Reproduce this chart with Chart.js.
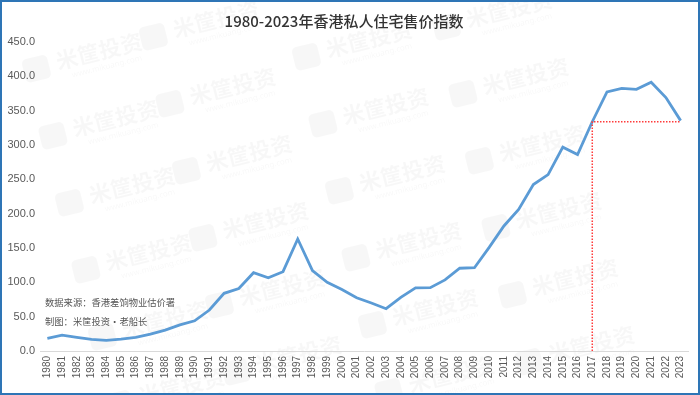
<!DOCTYPE html>
<html>
<head>
<meta charset="utf-8">
<script src="https://cdn.jsdelivr.net/npm/chart.js@4"></script>
<style>
  html, body { margin: 0; padding: 0; background: #fff; }
  #wrap { width: 700px; height: 395px; position: relative; }
</style>
</head>
<body>
<div id="wrap"><canvas id="c" width="700" height="395"></canvas></div>
<script>
// 年份
const years = ['1980','1981','1982','1983','1984','1985','1986','1987','1988','1989',
  '1990','1991','1992','1993','1994','1995','1996','1997','1998','1999',
  '2000','2001','2002','2003','2004','2005','2006','2007','2008','2009',
  '2010','2011','2012','2013','2014','2015','2016','2017','2018','2019',
  '2020','2021','2022','2023'];

// 私人住宅售价指数 (1999=100)
const priceIndex = [18.4, 23.0, 20.0, 17.0, 15.5, 17.4, 20.0, 24.7, 30.5, 38.0,
  44.0, 59.7, 84.0, 91.0, 114.0, 106.5, 115.5, 163.1, 117.0, 100.0,
  89.6, 77.6, 69.9, 61.6, 78.0, 92.0, 92.2, 103.5, 120.5, 121.3,
  150.9, 182.1, 206.2, 242.4, 256.9, 296.8, 286.1, 333.9, 377.3, 382.5,
  381.0, 391.4, 369.0, 335.5];

const yTicks = [0, 50, 100, 150, 200, 250, 300, 350, 400, 450];
const refYear = '2017';
const notes = ['数据来源：香港差饷物业估价署', '制图：米筐投资·老船长'];

// 水印位置 (文字中心)
const wmSpots = [];
[[100,55],[217,23],[370,43],[510,13]].forEach(function(b) {
  for (let k = 0; k < 6; k++) wmSpots.push([b[0] + k * 16.5, b[1] + k * 67]);
});

const decor = {
  id: 'decor',
  beforeDraw(chart) {
    const ctx = chart.ctx;
    ctx.save();
    ctx.fillStyle = '#fff';
    ctx.fillRect(0, 0, chart.width, chart.height);
    // watermark
    wmSpots.forEach(function(p) {
      ctx.save();
      ctx.translate(p[0], p[1]);
      ctx.rotate(-14 * Math.PI / 180);
      ctx.fillStyle = 'rgba(0,0,0,0.03)';
      ctx.beginPath();
      ctx.roundRect(-78, -14, 26, 24, 5);
      ctx.fill();
      ctx.font = 'bold 22px "Noto Sans CJK SC"';
      ctx.textAlign = 'center';
      ctx.textBaseline = 'middle';
      ctx.fillText('米筐投资', 0, -4);
      ctx.font = '8px "Noto Sans"';
      ctx.fillText('www.mikuang.com', 4, 13);
      ctx.restore();
    });
    ctx.restore();
  },
  afterDatasetsDraw(chart) {
    const ctx = chart.ctx;
    const x = chart.scales.x, y = chart.scales.y;
    const i = years.indexOf(refYear);
    const px = x.getPixelForValue(i);
    const py = y.getPixelForValue(priceIndex[i]);
    const pEnd = x.getPixelForValue(years.length - 1);
    ctx.save();
    ctx.strokeStyle = '#ff3b3b';
    ctx.lineWidth = 1.5;
    ctx.setLineDash([1.5, 1.5]);
    ctx.beginPath();
    ctx.moveTo(px, y.getPixelForValue(0));
    ctx.lineTo(px, py);
    ctx.lineTo(pEnd, py);
    ctx.stroke();
    ctx.restore();
  },
  afterDraw(chart) {
    const ctx = chart.ctx;
    ctx.save();
    ctx.fillStyle = '#555';
    ctx.font = '9.3px "Noto Sans CJK SC"';
    ctx.textBaseline = 'middle';
    ctx.fillText(notes[0], 45, 302);
    ctx.fillText(notes[1], 45, 321);
    ctx.strokeStyle = '#2e75b6';
    ctx.lineWidth = 2;
    ctx.strokeRect(1, 1, chart.width - 2, chart.height - 2);
    ctx.restore();
  }
};

new Chart(document.getElementById('c'), {
  type: 'line',
  data: {
    labels: years,
    datasets: [{
      label: '香港私人住宅售价指数',
      data: priceIndex,
      borderColor: '#5b9bd5',
      borderWidth: 2.8,
      pointRadius: 0,
      tension: 0,
      fill: false
    }]
  },
  options: {
    responsive: false,
    animation: false,
    layout: { padding: { left: 0, right: 12, top: 0, bottom: 0 } },
    plugins: {
      legend: { display: false },
      tooltip: { enabled: false },
      title: {
        display: true,
        text: '1980-2023年香港私人住宅售价指数',
        color: '#333',
        font: { family: '"Noto Sans CJK SC"', size: 15, weight: '500' },
        padding: { top: 12, bottom: 12 }
      }
    },
    scales: {
      x: {
        offset: true,
        grid: { display: false, drawTicks: false },
        border: { display: true, color: '#d9d9d9', width: 1 },
        ticks: {
          autoSkip: false,
          minRotation: 90,
          maxRotation: 90,
          padding: 5,
          color: '#595959',
          font: { family: '"Liberation Sans"', size: 10 }
        },
        afterFit(s) { s.height = 44; }
      },
      y: {
        min: 0,
        max: 450,
        afterBuildTicks(s) { s.ticks = yTicks.map(v => ({ value: v })); },
        grid: { display: false, drawTicks: false },
        border: { display: false },
        ticks: {
          padding: 5,
          color: '#595959',
          font: { family: '"Liberation Sans"', size: 11 },
          callback: v => v.toFixed(1)
        },
        afterFit(s) { s.width = 40; }
      }
    }
  },
  plugins: [decor]
});
</script>
</body>
</html>
